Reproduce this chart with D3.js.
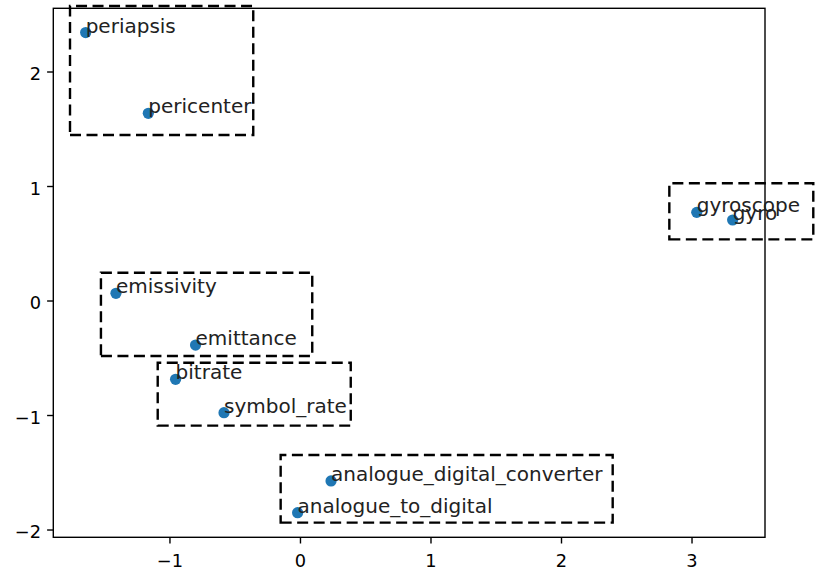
<!DOCTYPE html>
<html>
<head>
<meta charset="utf-8">
<script src="https://cdn.jsdelivr.net/npm/d3@7"></script>
<style>
  body { margin: 0; background: #fff; }
  svg { display: block; font-family: "DejaVu Sans", sans-serif; }
</style>
</head>
<body>
<div class="chart"></div>
<script>
// word embedding points
var words = ["periapsis", "pericenter", "emissivity", "emittance", "bitrate",
    "symbol_rate", "analogue_digital_converter", "analogue_to_digital", "gyroscope", "gyro"];
var xs = [-1.642, -1.162, -1.41, -0.80, -0.953, -0.582, 0.238, -0.018, 3.04, 3.315];
var ys = [2.34, 1.635, 0.063, -0.389, -0.688, -0.98, -1.576, -1.853, 0.77, 0.703];

// cluster boxes
var boxX0 = [-1.762, -1.525, -1.09, -0.148, 2.83];
var boxX1 = [-0.358, 0.094, 0.389, 2.396, 3.933];
var boxY0 = [1.445, -0.485, -1.093, -1.94, 0.534];
var boxY1 = [2.572, 0.243, -0.543, -1.349, 1.024];

var xTicks = [-1, 0, 1, 2, 3];
var yTicks = [-2, -1, 0, 1, 2];

var svgWidth = 817;
var svgHeight = 581;
var plot = { left: 53.3, right: 765, top: 8.3, bottom: 537.3 };
var fontSize = 17.8;
var labelSize = 20;

var svg = d3.select(".chart")
    .append("svg")
    .attr("width", svgWidth)
    .attr("height", svgHeight);

var x = d3.scaleLinear().domain([-1.89, 3.563]).range([plot.left, plot.right]);
var y = d3.scaleLinear().domain([-2.068, 2.552]).range([plot.bottom, plot.top]);

// boxes, path starts at bottom-left like matplotlib's Rectangle
var boxGroup = svg.append("g");
boxX0.forEach(function (x0, i) {
    var p = d3.path();
    p.moveTo(x(x0), y(boxY0[i]));
    p.lineTo(x(boxX1[i]), y(boxY0[i]));
    p.lineTo(x(boxX1[i]), y(boxY1[i]));
    p.lineTo(x(x0), y(boxY1[i]));
    p.closePath();
    boxGroup.append("path")
        .attr("d", p.toString())
        .attr("fill", "none")
        .attr("stroke", "black")
        .attr("stroke-width", 2.4)
        .attr("stroke-dasharray", "11,5.5");
});

svg.append("g").selectAll("circle")
    .data(words)
    .enter()
    .append("circle")
    .attr("cx", (d, i) => x(xs[i]))
    .attr("cy", (d, i) => y(ys[i]))
    .attr("r", 5.6)
    .attr("fill", "#1f77b4");

// axes
var bottomAxis = d3.axisBottom(x).tickValues(xTicks).tickFormat(d3.format("d"))
    .tickSize(6.2).tickSizeOuter(0).tickPadding(11);
var leftAxis = d3.axisLeft(y).tickValues(yTicks).tickFormat(d3.format("d"))
    .tickSize(6.2).tickSizeOuter(0).tickPadding(6.1);

var xAxis = svg.append("g")
    .attr("transform", `translate(0,${plot.bottom})`)
    .call(bottomAxis);
var yAxis = svg.append("g")
    .attr("transform", `translate(${plot.left},0)`)
    .call(leftAxis);

[xAxis, yAxis].forEach(function (g) {
    g.select(".domain").remove();
    g.selectAll("line").attr("stroke", "black").attr("stroke-width", 1.4);
    g.selectAll("text")
        .attr("fill", "black")
        .style("font-size", fontSize + "px")
        .style("font-family", "DejaVu Sans");
});
yAxis.selectAll("text").attr("dy", "0.46em");

// frame
svg.append("rect")
    .attr("x", plot.left)
    .attr("y", plot.top)
    .attr("width", plot.right - plot.left)
    .attr("height", plot.bottom - plot.top)
    .attr("fill", "none")
    .attr("stroke", "black")
    .attr("stroke-width", 1.4);

svg.append("g").selectAll("text")
    .data(words)
    .enter()
    .append("text")
    .attr("x", (d, i) => x(xs[i]))
    .attr("y", (d, i) => y(ys[i]))
    .attr("fill", "#222")
    .style("font-size", labelSize + "px")
    .text(d => d);
</script>
</body>
</html>
